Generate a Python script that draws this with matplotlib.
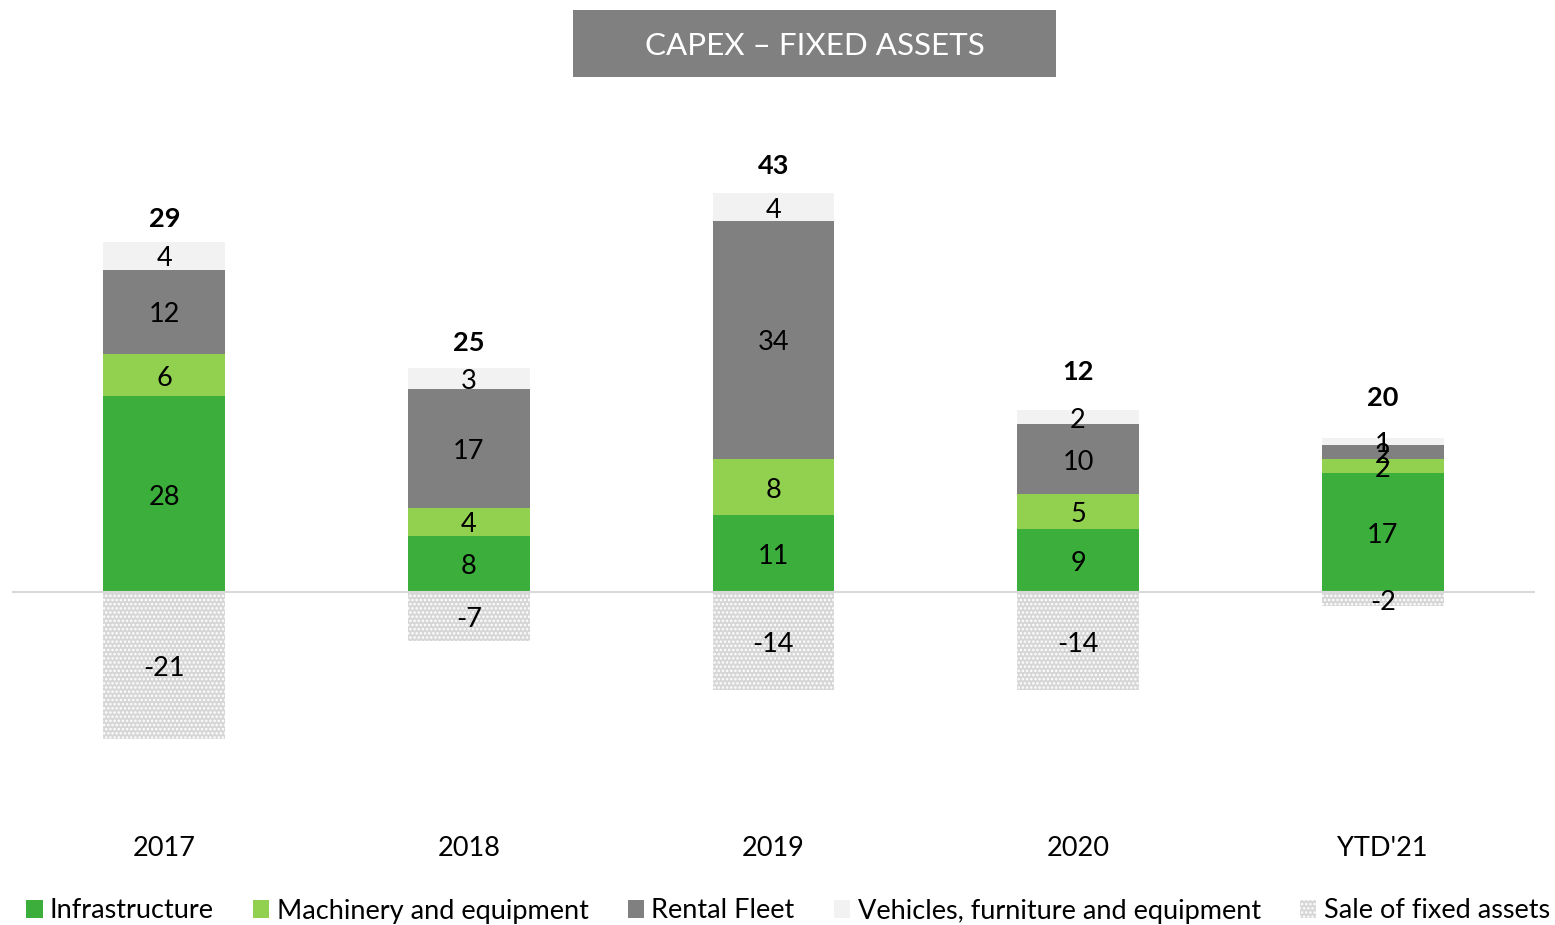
import numpy as np
import matplotlib
matplotlib.use("Agg")
from matplotlib import pyplot as plt
from matplotlib.patches import Patch
from matplotlib.transforms import offset_copy

plt.rcParams['font.family'] = ['Lato', 'DejaVu Sans']
plt.rcParams['hatch.linewidth'] = 1.2

CATEGORIES = ["2017", "2018", "2019", "2020", "YTD'21"]
INFRA      = [28, 8, 11, 9, 17]
MACHINERY  = [6, 4, 8, 5, 2]
RENTAL     = [12, 17, 34, 10, 2]
VEHICLES   = [4, 3, 4, 2, 1]
SALE       = [-21, -7, -14, -14, -2]
TOTALS     = [29, 25, 43, 12, 20]

SERIES = ["Infrastructure", "Machinery and equipment", "Rental Fleet",
          "Vehicles, furniture and equipment", "Sale of fixed assets"]
COLORS = ["#3BAE3B", "#92D050", "#808080", "#F2F2F2", "#D6D6D6"]

# offsets (px) of the total labels above each stack, as in the original
total_pad = [26, 28, 30, 41, 43]

W, H = 1555, 925
fig = plt.figure(figsize=(W / 100, H / 100), dpi=100)
# zero line at y=592px, 7 px per unit
ax_top, ax_bot = 100, 800
ax = fig.add_axes([12 / W, 1 - ax_bot / H, 1523 / W, (ax_bot - ax_top) / H])
ax.set_xlim(-0.5, 4.5)
ax.set_ylim(-(ax_bot - 592) / 7, (592 - ax_top) / 7)
ax.axis("off")

# nudge text a few pixels down so it sits like the original
tdata = offset_copy(ax.transData, fig=fig, y=-3, units="dots")
txaxis = offset_copy(ax.get_xaxis_transform(), fig=fig, y=-3, units="dots")

x = np.arange(len(CATEGORIES))
bw = 0.4
bottom = np.zeros(len(x))
fs = 19.5
for vals, col in zip([INFRA, MACHINERY, RENTAL, VEHICLES], COLORS[:4]):
    vals = np.array(vals, dtype=float)
    ax.bar(x, vals, bw, bottom=bottom, color=col, linewidth=0, zorder=2)
    for xi, b, v in zip(x, bottom, vals):
        ax.text(xi, b + v / 2, f"{int(v)}", ha="center", va="center", fontsize=fs,
                zorder=4, transform=tdata)
    bottom += vals

ax.bar(x, SALE, bw, color=COLORS[4], edgecolor="white", hatch="....", linewidth=0, zorder=2)
for xi, v in zip(x, SALE):
    ax.text(xi, v / 2, f"{v}", ha="center", va="center", fontsize=fs, zorder=4, transform=tdata)

for xi, top, t, p in zip(x, bottom, TOTALS, total_pad):
    ax.text(xi, top + p / 7, f"{t}", ha="center", va="center", fontsize=fs,
            fontweight="bold", transform=tdata)

ax.axhline(0, color="#D9D9D9", linewidth=1.5, zorder=3)

for xi, c in zip(x, CATEGORIES):
    ax.text(xi, -(845 - 800) / (ax_bot - ax_top), c, transform=txaxis,
            ha="center", va="center", fontsize=fs)

# title box
fig.text((573 + 1056) / 2 / W, 1 - 46 / H, "CAPEX \u2013 FIXED ASSETS", ha="center", va="center",
         fontsize=22.6, color="white")
fig.patches.append(plt.Rectangle((573 / W, 1 - 77 / H), 483 / W, 67 / H, transform=fig.transFigure,
                                 facecolor="#808080", edgecolor="none", zorder=0))

handles = [Patch(facecolor=c, edgecolor="none") for c in COLORS[:4]]
handles.append(Patch(facecolor=COLORS[4], edgecolor="white", hatch="....", linewidth=0))
fig.legend(handles, SERIES, loc="center", bbox_to_anchor=(788 / W, 1 - 911 / H), ncol=5,
           frameon=False, fontsize=fs, handlelength=0.6, handleheight=0.6,
           handletextpad=0.27, columnspacing=1.45, borderpad=0, borderaxespad=0)

fig.savefig("out.png", dpi=100)
